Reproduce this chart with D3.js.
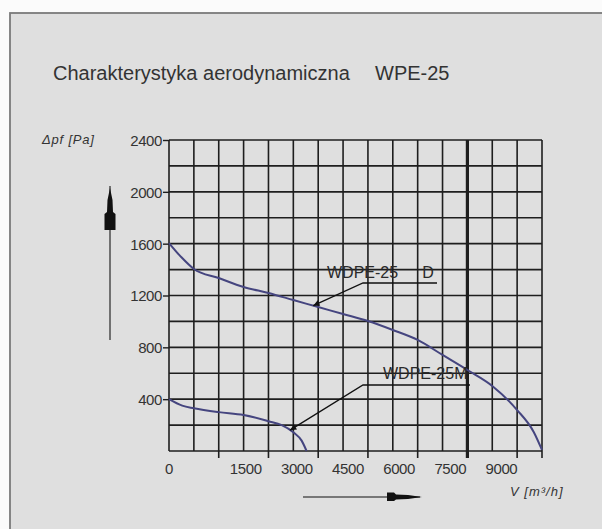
<!DOCTYPE html>
<html><head><meta charset="utf-8">
<script src="https://cdn.jsdelivr.net/npm/d3@7"></script>
<style>html,body{margin:0;padding:0;background:#fff;} svg{display:block;}</style>
</head><body><svg id="c" width="602" height="529"></svg>
<script>
// ---- data ----
const titleMain = "Charakterystyka aerodynamiczna";
const titleModel = "WPE-25";
const yAxisTitle = "Δpf [Pa]";
const xAxisTitle = "V [m³/h]";
const xTickLabels = [0, 1500, 3000, 4500, 6000, 7500, 9000];
const yTickLabels = [400, 800, 1200, 1600, 2000, 2400];
const seriesNames = ["WDPE-25 D", "WDPE-25M"];
const flowD  = [0, 375, 750, 1500, 2250, 3000, 3750, 4500, 5250, 6000, 6750, 7500, 8250, 9000, 9750, 10500, 11000, 11250];
const pressD = [1605, 1495, 1405, 1335, 1266, 1219, 1165, 1111, 1057, 1003, 934, 857, 741, 625, 502, 316, 147, 8];
const flowM  = [0, 400, 750, 1500, 2250, 3000, 3400, 3750, 4000, 4150];
const pressM = [400, 350, 330, 300, 278, 230, 200, 145, 80, 0];
const xMax = 11250, xGridStep = 750, xMajorStep = 1500, boldFlow = 9000;
const yMax = 2400, yGridStep = 200;

// ---- layout ----
const W = 602, H = 529;
const plot = {left: 169, right: 542, top: 140, bottom: 451};
const FONT = "'Liberation Sans', Arial, sans-serif";
const BG = "#dfdfdf", INK = "#1e1e1e", TXT = "#333", CURVE = "#45457f";

const svg = d3.select("#c");
const x = d3.scaleLinear().domain([0, xMax]).range([plot.left, plot.right]);
const y = d3.scaleLinear().domain([0, yMax]).range([plot.bottom, plot.top]);

// background + frame
svg.append("rect").attr("width", W).attr("height", H).attr("fill", "#fbfbfb");
svg.append("rect").attr("x", 10).attr("y", 13).attr("width", W).attr("height", H)
  .attr("fill", BG).attr("stroke", "#7a7a7a").attr("stroke-width", 1.8);

// title
const t = svg.append("g").attr("font-family", FONT).attr("fill", TXT).attr("font-size", 20);
t.append("text").attr("x", 53).attr("y", 80).text(titleMain);
t.append("text").attr("x", 375).attr("y", 80).text(titleModel);

// grid
const g = svg.append("g").attr("stroke", INK).attr("stroke-width", 1.6);
d3.range(0, yMax + 1, yGridStep).forEach(v => {
  g.append("line").attr("x1", x(0)).attr("x2", x(xMax)).attr("y1", y(v)).attr("y2", y(v));
});
d3.range(0, xMax + 1, xGridStep).forEach(v => {
  const major = (v > 0 && v % xMajorStep === 0) || v === xMax;
  g.append("line").attr("x1", x(v)).attr("x2", x(v))
    .attr("y1", y(yMax)).attr("y2", major ? plot.bottom + 7 : plot.bottom)
    .attr("stroke-width", v === boldFlow ? 3.2 : 1.6);
});

// y axis ticks + labels
const yAxis = d3.axisLeft(y).tickValues(yTickLabels).tickSize(6).tickPadding(1).tickFormat(d3.format("d"));
const ya = svg.append("g").attr("transform", `translate(${plot.left},0)`).call(yAxis);
ya.select(".domain").remove();
ya.selectAll(".tick line").attr("stroke", INK).attr("stroke-width", 1.4);
ya.selectAll(".tick text").attr("font-family", FONT).attr("font-size", 15).attr("fill", TXT)
  .attr("letter-spacing", -0.4).attr("dy", "0.36em");

// x axis labels (printed slightly right of the grid ticks, as in the original sheet)
const labelX = d3.scaleLinear().domain([xMajorStep, boldFlow]).range([x(xMajorStep) + 27, x(boldFlow) + 34]);
svg.append("g").attr("font-family", FONT).attr("font-size", 15).attr("fill", TXT)
  .attr("text-anchor", "middle").attr("letter-spacing", -0.4)
  .selectAll("text").data(xTickLabels).join("text")
  .attr("x", d => d === 0 ? x(0) : labelX(d)).attr("y", plot.bottom + 23).text(d => d);

// axis titles
svg.append("text").attr("x", 42).attr("y", 144).attr("font-family", FONT).attr("font-style", "italic")
  .attr("font-size", 13).attr("letter-spacing", 0.8).attr("fill", TXT).text(yAxisTitle);
svg.append("text").attr("x", 510).attr("y", 496).attr("font-family", FONT).attr("font-style", "italic")
  .attr("font-size", 13).attr("letter-spacing", 1).attr("fill", TXT).text(xAxisTitle);

// direction arrows
svg.append("line").attr("x1", 110).attr("x2", 110).attr("y1", 186).attr("y2", 340).attr("stroke", "#555").attr("stroke-width", 1.6);
svg.append("path").attr("fill", "#111")
  .attr("d", "M110,188 L112.5,200 L113,212 L115.5,214 L115.5,230 L104.5,230 L104.5,214 L107,212 L107.5,200 Z");
svg.append("line").attr("x1", 303).attr("x2", 420).attr("y1", 497).attr("y2", 497).attr("stroke", "#555").attr("stroke-width", 1.6);
svg.append("path").attr("fill", "#111")
  .attr("d", "M422,497 L408,495 L396,494.5 L394,492.5 L387,492.5 L387,501 L394,501 L396,499.5 L408,499 Z");

// curves
const line = d3.line().x(d => x(d[0])).y(d => y(d[1])).curve(d3.curveMonotoneX);
const dataD = flowD.map((f, i) => [f, pressD[i]]);
const dataM = flowM.map((f, i) => [f, pressM[i]]);
[dataD, dataM].forEach(d => {
  svg.append("path").datum(d).attr("d", line).attr("fill", "none")
    .attr("stroke", CURVE).attr("stroke-width", 2);
});

// leaders + labels
function interp(fl, pr, f) {
  const i = d3.bisectRight(fl, f) - 1;
  const t0 = (f - fl[i]) / (fl[i + 1] - fl[i]);
  return pr[i] + t0 * (pr[i + 1] - pr[i]);
}
const leaders = [
  {flow: 4350, fl: flowD, pr: pressD, elbow: [363, 283], end: 437, tx: 327, ty: 278, name: seriesNames[0]},
  {flow: 3650, fl: flowM, pr: pressM, elbow: [363, 385], end: 470, tx: 383, ty: 379, name: seriesNames[1]}
];
leaders.forEach(L => {
  const px = x(L.flow), py = y(interp(L.fl, L.pr, L.flow));
  svg.append("path").attr("fill", "none").attr("stroke", "#111").attr("stroke-width", 1.3)
    .attr("d", `M${px},${py} L${L.elbow[0]},${L.elbow[1]} L${L.end},${L.elbow[1]}`);
  const ang = Math.atan2(L.elbow[1] - py, L.elbow[0] - px);
  const a1 = ang + 0.45, a2 = ang - 0.45, len = 7;
  svg.append("path").attr("fill", "#111")
    .attr("d", `M${px},${py} L${px + len * Math.cos(a1)},${py + len * Math.sin(a1)} L${px + len * Math.cos(a2)},${py + len * Math.sin(a2)} Z`);
  const parts = L.name.split(" ");
  const txt = svg.append("text").attr("x", L.tx).attr("y", L.ty).attr("font-family", FONT)
    .attr("font-size", 16).attr("fill", "#2a2a2a");
  txt.append("tspan").text(parts[0]);
  if (parts[1]) txt.append("tspan").attr("dx", 24).text(parts[1]);
});
</script>
</body></html>
